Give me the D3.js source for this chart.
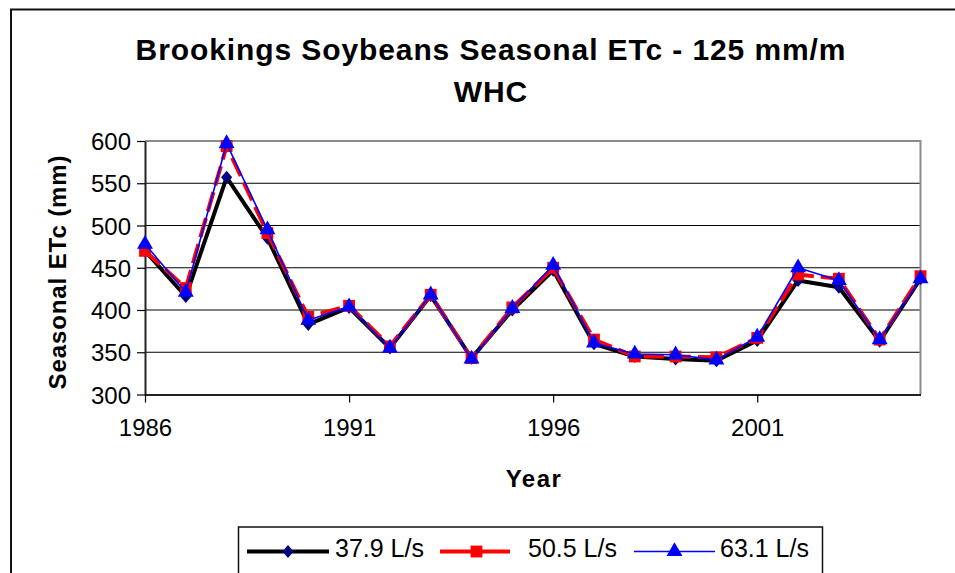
<!DOCTYPE html>
<html>
<head>
<meta charset="utf-8">
<script src="https://cdnjs.cloudflare.com/ajax/libs/d3/7.8.5/d3.min.js"></script>
<style>
    body { margin: 0; background: #fff; }
    svg { display: block; font-family: "Liberation Sans", Arial, sans-serif; }
</style>
</head>
<body>
<svg id="chart" width="955" height="573"></svg>
<script>
// Chart data
var years = [1986, 1987, 1988, 1989, 1990, 1991, 1992, 1993, 1994, 1995,
    1996, 1997, 1998, 1999, 2000, 2001, 2002, 2003, 2004, 2005];
var etc379 = [470, 416, 557, 485, 383, 403, 355, 417, 343, 400,
    447, 360, 345, 342, 340, 364, 435, 427, 363, 437];
var etc505 = [470, 426, 594, 491, 392, 405, 357, 418, 343, 403,
    450, 365, 345, 345, 344, 367, 442, 437, 365, 440];
var etc631 = [478, 421, 597, 495, 388, 404, 355, 418, 342, 402,
    453, 361, 348, 347, 341, 368, 450, 435, 365, 437];
var seriesNames = ["37.9 L/s", "50.5 L/s", "63.1 L/s"];
var xTickYears = [1986, 1991, 1996, 2001];
var yTickValues = [300, 350, 400, 450, 500, 550, 600];

var titleLines = ["Brookings Soybeans Seasonal ETc - 125 mm/m", "WHC"];

// Layout
var plot = { left: 145, right: 920.5, top: 141, bottom: 394.5 };

var svg = d3.select("#chart");

// outer chart frame (runs off the right/bottom of the picture)
svg.append("rect")
    .attr("x", 11).attr("y", 9.5)
    .attr("width", 980).attr("height", 620)
    .attr("fill", "none")
    .attr("stroke", "#111")
    .attr("stroke-width", 2);

var x = d3.scaleLinear().domain([years[0], years[years.length - 1]]).range([plot.left, plot.right]);
var y = d3.scaleLinear().domain([300, 600]).range([plot.bottom, plot.top]);

// gridlines
svg.append("g")
    .selectAll("line")
    .data(yTickValues.slice(1, -1))
    .enter()
    .append("line")
    .attr("x1", plot.left).attr("x2", plot.right)
    .attr("y1", d => y(d)).attr("y2", d => y(d))
    .attr("stroke", "#000")
    .attr("stroke-width", 1.2);

// gray top + right border of plot area
svg.append("path")
    .attr("d", "M" + plot.left + "," + plot.top + "H" + plot.right + "V" + plot.bottom)
    .attr("fill", "none")
    .attr("stroke", "#8c8c8c")
    .attr("stroke-width", 2);

// axes
var yAxis = svg.append("g")
    .attr("transform", "translate(" + plot.left + ",0)")
    .call(d3.axisLeft(y).tickValues(yTickValues).tickSize(8).tickSizeOuter(0).tickPadding(6));
var xAxis = svg.append("g")
    .attr("transform", "translate(0," + plot.bottom + ")")
    .call(d3.axisBottom(x).tickValues(xTickYears).tickFormat(d3.format("d"))
        .tickSize(8).tickSizeOuter(0).tickPadding(12));

[yAxis, xAxis].forEach(function (ax) {
    ax.select(".domain").attr("stroke", "#222").attr("stroke-width", 2);
    ax.selectAll(".tick line").attr("stroke", "#000").attr("stroke-width", 1.2);
    ax.selectAll(".tick text")
        .attr("fill", "#000")
        .attr("font-size", "24px")
        .attr("font-family", "\"Liberation Sans\", Arial, sans-serif");
});
yAxis.selectAll(".tick text").attr("dy", "0.36em");
xAxis.selectAll(".tick text").attr("dy", "0.9em");

// title
svg.append("g")
    .selectAll("text")
    .data(titleLines)
    .enter()
    .append("text")
    .attr("x", 491)
    .attr("y", (d, i) => 60 + i * 42)
    .attr("text-anchor", "middle")
    .attr("font-size", "30px")
    .attr("font-weight", "bold")
    .attr("letter-spacing", "0.9px")
    .text(d => d);

// axis titles
svg.append("text")
    .attr("x", 534).attr("y", 487)
    .attr("text-anchor", "middle")
    .attr("font-size", "24px")
    .attr("font-weight", "bold")
    .attr("letter-spacing", "1.5px")
    .text("Year");

svg.append("text")
    .attr("transform", "translate(66,272) rotate(-90)")
    .attr("text-anchor", "middle")
    .attr("font-size", "24px")
    .attr("font-weight", "bold")
    .attr("letter-spacing", "0.9px")
    .text("Seasonal ETc (mm)");

// series styles
var styles = [
    { values: etc379, line: "#000", width: 4, dash: null, marker: d3.symbolDiamond2, fill: "#000080", size: 110 },
    { values: etc505, line: "#ff0000", width: 4, dash: "20,7", marker: d3.symbolSquare, fill: "#ff0000", size: 140 },
    { values: etc631, line: "#0000ff", width: 1.6, dash: null, marker: d3.symbolTriangle, fill: "#0000ff", size: 110 }
];

var line = d3.line()
    .x((d, i) => x(years[i]))
    .y(d => y(d));

styles.forEach(function (s) {
    var g = svg.append("g");
    g.append("path")
        .datum(s.values)
        .attr("d", line)
        .attr("fill", "none")
        .attr("stroke", s.line)
        .attr("stroke-width", s.width)
        .attr("stroke-dasharray", s.dash)
        .attr("stroke-linejoin", "round");
    g.selectAll(".pt")
        .data(s.values)
        .enter()
        .append("path")
        .attr("class", "pt")
        .attr("transform", (d, i) => "translate(" + x(years[i]) + "," + y(d) + ")" +
            (s.marker === d3.symbolDiamond2 ? " scale(0.85,1)" : ""))
        .attr("d", d3.symbol().type(s.marker).size(s.size))
        .attr("fill", s.fill);
});

// legend
var legend = svg.append("g");
legend.append("rect")
    .attr("x", 238.5).attr("y", 527)
    .attr("width", 584).attr("height", 70)
    .attr("fill", "#fff")
    .attr("stroke", "#111")
    .attr("stroke-width", 1.5);

var legendItems = [
    { x1: 247, x2: 329, tx: 335 },
    { x1: 440, x2: 513, tx: 528 },
    { x1: 634, x2: 715, tx: 720 }
];
var legendY = 551.5;

legendItems.forEach(function (it, i) {
    var s = styles[i];
    legend.append("line")
        .attr("x1", it.x1).attr("x2", it.x2)
        .attr("y1", legendY).attr("y2", legendY)
        .attr("stroke", s.line)
        .attr("stroke-width", s.width)
        .attr("stroke-dasharray", s.dash ? "32,6" : null);
    legend.append("path")
        .attr("transform", "translate(" + ((it.x1 + it.x2) / 2) + "," + legendY + ")" +
            (s.marker === d3.symbolDiamond2 ? " scale(0.85,1)" : ""))
        .attr("d", d3.symbol().type(s.marker).size(s.size))
        .attr("fill", s.fill);
    legend.append("text")
        .attr("x", it.tx).attr("y", legendY + 5)
        .attr("font-size", "25px")
        .text(seriesNames[i]);
});
</script>
</body>
</html>
